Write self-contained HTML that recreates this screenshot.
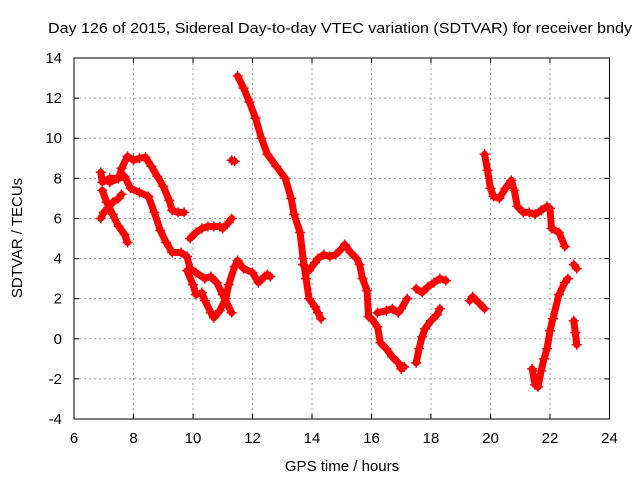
<!DOCTYPE html>
<html><head><meta charset="utf-8"><style>
body{margin:0;background:#fff}
svg{display:block;font-family:"Liberation Sans",sans-serif}
</style></head><body>
<svg id="chart" width="640" height="480">
<text x="340" y="33" text-anchor="middle" font-size="15" textLength="584" lengthAdjust="spacingAndGlyphs">Day 126 of 2015, Sidereal Day-to-day VTEC variation (SDTVAR) for receiver bndy</text>
<text x="342" y="471" text-anchor="middle" font-size="15">GPS time / hours</text>
<text transform="translate(22,238) rotate(-90)" text-anchor="middle" font-size="15">SDTVAR / TECUs</text>
<g id="grid"></g><g id="axes"></g><g id="series"></g>
</svg>
<script>
const xTicks=[6,8,10,12,14,16,18,20,22,24];
const yTicks=[-4,-2,0,2,4,6,8,10,12,14];
const segA=[[6.9,8.3],[6.95,7.8],[7.2,8.0],[7.5,8.0],[7.6,8.5],[7.8,9.1],[8.0,8.9],[8.2,9.0],[8.4,9.05],[8.6,8.6],[8.8,8.1],[9.0,7.6],[9.2,6.9],[9.3,6.4],[9.5,6.3],[9.7,6.3]];
const segB=[[6.9,6.0],[7.0,6.3],[7.3,6.8],[7.5,7.0],[7.6,7.2]];
const segB2=[[6.95,7.4],[7.1,6.8],[7.3,6.2],[7.5,5.6],[7.7,5.2],[7.8,4.8]];
const segC=[[7.2,7.8],[7.5,8.0],[7.7,8.1],[7.9,7.5],[8.2,7.3],[8.5,7.1],[8.7,6.3],[8.9,5.4],[9.1,4.8],[9.3,4.3],[9.6,4.3],[9.8,4.1],[9.9,3.5],[10.1,3.3],[10.4,3.0],[10.6,3.1],[10.8,2.8],[11.0,2.2],[11.3,1.3]];
const segD=[[9.8,3.4],[10.0,2.7],[10.1,2.2],[10.3,2.3],[10.4,1.9],[10.6,1.3],[10.7,1.05],[10.9,1.4],[11.1,2.0],[11.2,2.7],[11.4,3.6],[11.5,3.9],[11.7,3.5],[12.0,3.3],[12.2,2.8],[12.4,3.1],[12.5,3.2],[12.6,3.1]];
const segE=[[9.9,5.0],[10.1,5.3],[10.3,5.5],[10.5,5.6],[10.7,5.6],[10.9,5.6],[11.0,5.5],[11.2,5.8],[11.3,6.0]];
const segF=[[11.3,8.9],[11.4,8.85]];
const segG=[[11.5,13.1],[11.7,12.5],[11.9,11.8],[12.1,11.0],[12.3,10.0],[12.5,9.2],[12.8,8.6],[13.1,8.0],[13.3,7.0],[13.4,6.2],[13.6,5.3],[13.7,4.0],[13.8,3.0],[13.9,2.0],[14.1,1.6],[14.2,1.3],[14.3,1.0]];
const segH=[[13.7,3.7],[13.9,3.4],[14.1,3.8],[14.2,4.0],[14.4,4.2],[14.6,4.1],[14.8,4.2],[15.0,4.5],[15.1,4.7],[15.3,4.3],[15.5,4.0],[15.6,3.7],[15.7,3.0],[15.85,2.4],[15.9,1.1],[16.0,1.0],[16.2,0.6],[16.3,-0.2],[16.5,-0.5],[16.7,-0.9],[16.9,-1.2],[17.0,-1.5],[17.1,-1.4]];
const segI=[[16.2,1.3],[16.5,1.4],[16.7,1.5],[16.9,1.3],[17.0,1.5],[17.2,2.0]];
const segJ=[[17.5,-1.2],[17.6,-0.5],[17.7,0.1],[17.8,0.5],[18.0,0.9],[18.2,1.2],[18.3,1.5]];
const segK=[[17.5,2.5],[17.7,2.3],[17.9,2.6],[18.1,2.8],[18.3,3.0],[18.5,2.9]];
const segL=[[19.3,1.9],[19.4,2.1],[19.6,1.8],[19.8,1.5]];
const segM=[[19.8,9.2],[19.9,8.4],[20.0,7.5],[20.1,7.1],[20.3,7.0],[20.5,7.5],[20.7,7.9],[20.8,7.4],[20.9,6.6],[21.1,6.3],[21.3,6.3],[21.5,6.2],[21.7,6.4],[21.9,6.6],[22.0,6.5],[22.05,5.5],[22.3,5.3],[22.5,4.6]];
const segN=[[21.4,-1.5],[21.5,-2.3],[21.6,-2.4],[21.7,-1.6],[21.8,-1.0],[21.9,-0.5],[22.0,0.4],[22.1,1.0],[22.3,2.2],[22.5,2.8],[22.6,3.0]];
const segO=[[22.8,3.7],[22.9,3.5]];
const segP=[[22.8,0.9],[22.85,0.3],[22.9,-0.3]];
const segments=[segA,segB,segB2,segC,segD,segE,segF,segG,segH,segI,segJ,segK,segL,segM,segN,segO,segP];

const L=74,R=609.5,T=58,B=419;
const xs=v=>L+(v-6)/(24-6)*(R-L);
const ys=v=>B-(v+4)/18*(B-T);
const NS='http://www.w3.org/2000/svg';
function mk(tag,attrs,parent){const e=document.createElementNS(NS,tag);for(const k in attrs)e.setAttribute(k,attrs[k]);parent.appendChild(e);return e;}
const grid=document.getElementById('grid'),axes=document.getElementById('axes'),ser=document.getElementById('series');
xTicks.forEach(t=>{const x=xs(t);
 if(t>6&&t<24){const g=mk('line',{x1:x,x2:x,y1:T,y2:B,stroke:'#a0a0a0','stroke-dasharray':'2,3'},grid);
 
 }
 const tx=mk('text',{x:x,y:B+24,'text-anchor':'middle','font-size':'15'},axes);tx.textContent=t;
 
 
 mk('line',{x1:x,x2:x,y1:B,y2:B-5,stroke:'#000'},axes);mk('line',{x1:x,x2:x,y1:T,y2:T+5,stroke:'#000'},axes);});
yTicks.forEach(t=>{const y=ys(t);
 if(t>-4&&t<14){const g=mk('line',{x1:L,x2:R,y1:y,y2:y,stroke:'#a0a0a0','stroke-dasharray':'2,3'},grid);
 
 }
 const tx=mk('text',{x:L-12,y:y+5,'text-anchor':'end','font-size':'15'},axes);tx.textContent=t;
 
 
 mk('line',{x1:L,x2:L+5,y1:y,y2:y,stroke:'#000'},axes);mk('line',{x1:R,x2:R-5,y1:y,y2:y,stroke:'#000'},axes);});
const frame=mk('rect',{x:L,y:T,width:R-L,height:B-T,fill:'none',stroke:'#000'},axes);


segments.forEach(seg=>{
 const pl=mk('polyline',{points:seg.map(p=>xs(p[0])+','+ys(p[1])).join(' '),fill:'none',stroke:'#f00','stroke-width':'7','stroke-linejoin':'round','stroke-linecap':'round'},ser);
 
 
 seg.forEach(p=>{const x=xs(p[0]),y=ys(p[1]);
  const m=mk('path',{d:`M${x-5},${y}H${x+5}M${x},${y-5}V${y+5}`,stroke:'#f00','stroke-width':'1.5'},ser);
  
  });
});
</script>
</body></html>
